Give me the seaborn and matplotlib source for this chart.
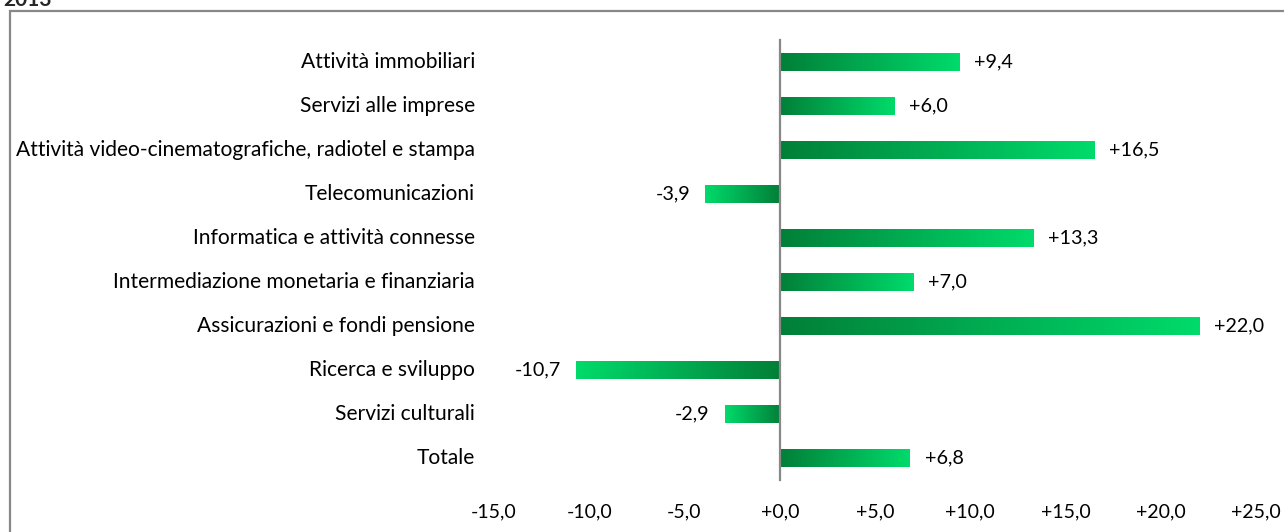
import numpy as np
import pandas as pd
import matplotlib
matplotlib.use("Agg")
import matplotlib.pyplot as plt
import matplotlib.transforms as mtransforms
from matplotlib.patches import Rectangle
from matplotlib.colors import LinearSegmentedColormap
from matplotlib.ticker import FuncFormatter, FixedLocator
import seaborn as sns

# data (top to bottom)
settori = [
    "Attività immobiliari",
    "Servizi alle imprese",
    "Attività video-cinematografiche, radiotel e stampa",
    "Telecomunicazioni",
    "Informatica e attività connesse",
    "Intermediazione monetaria e finanziaria",
    "Assicurazioni e fondi pensione",
    "Ricerca e sviluppo",
    "Servizi culturali",
    "Totale",
]
variazione = [9.4, 6.0, 16.5, -3.9, 13.3, 7.0, 22.0, -10.7, -2.9, 6.8]
titolo = "2013"

DARK = "#027F38"
BRIGHT = "#00DB6B"
GRAY = "#888888"

sns.set_theme(style="white")
plt.rcParams["font.family"] = ["Lato", "DejaVu Sans"]

df = pd.DataFrame({"settore": settori, "var": variazione})

fig = plt.figure(figsize=(12.84, 5.32), dpi=100)
ax = fig.add_axes([494 / 1284, 1 - 480 / 532, (1256 - 494) / 1284, 440 / 532])

sns.barplot(data=df, x="var", y="settore", order=settori, orient="h",
            width=0.39, color=DARK, ax=ax)

ax.set_xlim(-15, 25)
ax.set_ylim(len(settori) - 0.5, -0.5)

# gradient fill: dark at zero, bright at the bar end
cmap = LinearSegmentedColormap.from_list("verde", [DARK, BRIGHT])
grad = np.linspace(0, 1, 256).reshape(1, -1)
for patch, val in zip(ax.patches, variazione):
    x0, y0 = patch.get_x(), patch.get_y()
    w, h = patch.get_width(), patch.get_height()
    patch.set_facecolor("none")
    patch.set_edgecolor("none")
    img = grad if val >= 0 else grad[:, ::-1]
    im = ax.imshow(img, cmap=cmap, aspect="auto", interpolation="bicubic",
                   extent=[min(x0, x0 + w), max(x0, x0 + w), y0 + h, y0], zorder=2)
    im.set_clip_path(patch)

    lab = f"{val:+.1f}".replace(".", ",")
    off = 11 if val >= 0 else -11
    ax.annotate(lab, xy=(val, y0 + h / 2), xytext=(off, 0), textcoords="offset points",
                ha="left" if val >= 0 else "right", va="center",
                fontsize=14.2, color="black")

# x axis: labels only
ax.xaxis.set_major_locator(FixedLocator(np.arange(-15, 26, 5)))
ax.xaxis.set_major_formatter(FuncFormatter(lambda v, p: f"{v:+.1f}".replace(".", ",").replace("+-", "-")))
ax.tick_params(axis="x", length=0, pad=17, labelsize=14, colors="black")

# vertical axis at zero with tick marks between categories
for s in ["top", "right", "bottom"]:
    ax.spines[s].set_visible(False)
ax.spines["left"].set_position(("data", 0))
ax.spines["left"].set_color(GRAY)
ax.spines["left"].set_linewidth(1.6)
ax.spines["left"].set_zorder(3)
ax.yaxis.set_major_locator(FixedLocator(np.arange(len(settori) + 1) - 0.5))
ax.yaxis.set_major_formatter(FuncFormatter(lambda v, p: ""))
ax.tick_params(axis="y", length=5.5, width=1.6, color=GRAY, direction="out")
ax.set_xlabel("")
ax.set_ylabel("")

# category names at the left edge of the plot area
trans = ax.get_yaxis_transform() + mtransforms.ScaledTranslation(-19 / 100, 0, fig.dpi_scale_trans)
for i, nome in enumerate(settori):
    ax.text(0, i, nome, transform=trans, ha="right", va="center", fontsize=15.1, color="black")

# outer frame and clipped title
fig.patches.append(Rectangle((10 / 1284, -0.1), 1.2, 1.1 - 11 / 532,
                             transform=fig.transFigure, fill=False,
                             edgecolor=GRAY, linewidth=1.6, clip_on=False))
fig.text(3 / 1284, 1 - 6 / 532, titolo, fontsize=15, fontweight="bold", ha="left", va="baseline")

fig.savefig("out.png", dpi=100)
